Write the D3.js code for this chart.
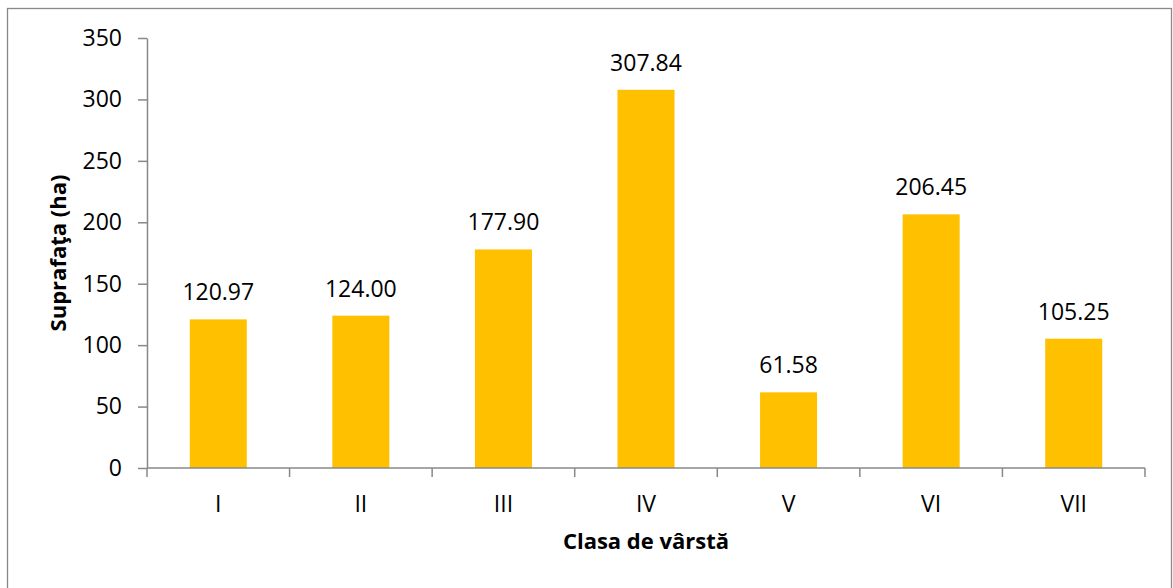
<!DOCTYPE html>
<html>
<head>
<meta charset="utf-8">
<script src="https://cdn.jsdelivr.net/npm/d3@7"></script>
<style>
  body { margin: 0; background: #fff; }
  text { font-family: "Open Sans", sans-serif; fill: #000; }
  .axis path, .axis line { stroke: #888; stroke-width: 1.5; }
</style>
</head>
<body>
<script>
// chart data
var categories = ["I", "II", "III", "IV", "V", "VI", "VII"];
var values = [120.97, 124.00, 177.90, 307.84, 61.58, 206.45, 105.25];
var yTicks = [0, 50, 100, 150, 200, 250, 300, 350];

var margin = {top: 38, right: 28, bottom: 120, left: 147},
    width = 1173 - margin.left - margin.right,
    height = 588 - margin.top - margin.bottom;

var svg = d3.select("body").append("svg")
    .attr("width", 1173)
    .attr("height", 588);

// outer chart border
svg.append("rect")
    .attr("x", 7.5).attr("y", 8.5)
    .attr("width", 1164).attr("height", 600)
    .attr("fill", "none")
    .attr("stroke", "#888")
    .attr("stroke-width", 1.3);

var g = svg.append("g")
    .attr("transform", "translate(" + margin.left + "," + margin.top + ")");

var x = d3.scaleBand().domain(categories).range([0, width]).paddingInner(0.6).paddingOuter(0.3);
var y = d3.scaleLinear().domain([0, 350]).range([height, 0]);

// bars
g.selectAll(".bar")
    .data(values)
  .enter().append("rect")
    .attr("class", "bar")
    .attr("x", function(d, i) { return x(categories[i]); })
    .attr("y", function(d) { return y(d); })
    .attr("width", x.bandwidth())
    .attr("height", function(d) { return height - y(d); })
    .attr("fill", "#FFC000");

// value labels
g.selectAll(".label")
    .data(values)
  .enter().append("text")
    .attr("class", "label")
    .attr("x", function(d, i) { return x(categories[i]) + x.bandwidth() / 2; })
    .attr("y", function(d) { return y(d) - 19; })
    .attr("text-anchor", "middle")
    .style("font-size", "23px")
    .text(function(d) { return d3.format(".2f")(d); });

// y axis
var yAxis = g.append("g")
    .attr("class", "axis")
    .call(d3.axisLeft(y).tickValues(yTicks).tickSize(9).tickPadding(16).tickSizeOuter(0));
yAxis.selectAll("text").style("font-size", "23px").attr("fill", "#000");

// x axis with ticks at band boundaries
var step = x.step();
var xAxis = g.append("g")
    .attr("class", "axis")
    .attr("transform", "translate(0," + height + ")");
xAxis.append("line")
    .attr("x1", 0).attr("x2", width)
    .attr("y1", 0).attr("y2", 0);
xAxis.selectAll(".tick")
    .data(d3.range(categories.length + 1))
  .enter().append("line")
    .attr("x1", function(i) { return i * width / categories.length; })
    .attr("x2", function(i) { return i * width / categories.length; })
    .attr("y1", 0).attr("y2", 9);
xAxis.selectAll(".cat")
    .data(categories)
  .enter().append("text")
    .attr("x", function(d) { return x(d) + x.bandwidth() / 2; })
    .attr("y", 44)
    .attr("text-anchor", "middle")
    .style("font-size", "23px")
    .text(function(d) { return d; });

// axis titles
g.append("text")
    .attr("x", width / 2)
    .attr("y", height + 81)
    .attr("text-anchor", "middle")
    .style("font-size", "22px")
    .style("font-weight", "bold")
    .text("Clasa de vârstă");

g.append("text")
    .attr("transform", "rotate(-90)")
    .attr("x", -height / 2)
    .attr("y", -81)
    .attr("text-anchor", "middle")
    .style("font-size", "22px")
    .style("font-weight", "bold")
    .text("Suprafaţa (ha)");
</script>
</body>
</html>
